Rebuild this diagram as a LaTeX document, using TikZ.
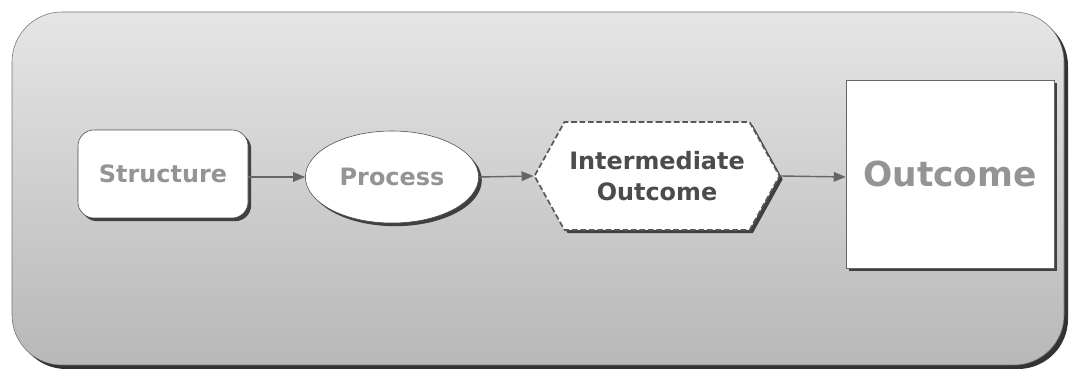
\documentclass[tikz,border=0pt]{standalone}
\usepackage{fontspec}
\setmainfont{DejaVu Sans}
\usetikzlibrary{shapes.geometric,shapes.symbols,shadows,arrows.meta}

\begin{document}
\begin{tikzpicture}[
	dark shadow/.style={drop shadow={shadow xshift=0.08cm, shadow yshift=-0.08cm, fill=black!75, opacity=1}},
	lbl/.style={font=\bfseries\fontsize{17}{22}\selectfont, text=black!42},
	link/.style={-{Triangle[length=0.3cm,width=0.24cm]}, line width=1pt, black!60}]
				\useasboundingbox (0,0) rectangle (26.875,9.325);
				\draw[black!55, top color=black!10, bottom color=black!28, rounded corners=1.25cm, drop shadow={shadow xshift=0.1cm, shadow yshift=-0.1cm, fill=black!80, opacity=1}] (0.3,0.2) rectangle (26.6,9.025);
				\node[lbl, draw=black!70, fill=white, rounded corners=0.4cm, minimum width=4.25cm, minimum height=2.2cm, dark shadow] (structure) at (4.075,4.975) {Structure};
				\node[lbl, ellipse, draw=black!70, fill=white, minimum width=4.33cm, minimum height=2.3cm, dark shadow] (process) at (9.8,4.9) {Process};
				\node[lbl, text=black!70, align=center, signal, signal to=east and west, signal pointer angle=122, draw=black!65, line width=1.2pt, dash pattern=on 4pt off 2pt, fill=white, minimum width=6.125cm, minimum height=2.7cm, inner sep=0pt, dark shadow] (inter) at (16.425,4.925) {Intermediate\\Outcome};
				\node[lbl, font=\bfseries\fontsize{24.5}{29}\selectfont, draw=black!60, fill=white, minimum width=5.2cm, minimum height=4.7cm, dark shadow] (outcome) at (23.75,4.975) {Outcome};
				\draw[link] (structure.east |- 0,4.9) -- (process.west);
				\draw[link] (process.east) -- (inter.west);
				\draw[link] (inter.east) -- (outcome.west |- 0,4.9);
\end{tikzpicture}
\end{document}
